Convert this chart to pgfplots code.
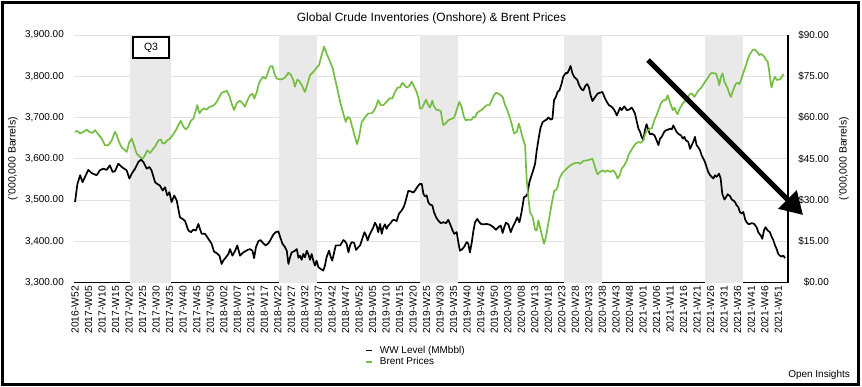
\documentclass[border=0pt]{standalone}
\usepackage{pgfplots}
\usepackage{pgfplotstable}
\pgfplotsset{compat=1.18}
\usepackage{fontspec}
\setmainfont{Liberation Sans}
\usetikzlibrary{arrows.meta}
\definecolor{brent}{RGB}{118,190,67}
\definecolor{band}{RGB}{233,233,233}
\definecolor{gridc}{RGB}{226,226,226}

\pgfplotstableread{
x y
0 3495
0.9 3539
1.9 3560
2.8 3543
3.7 3556
4.9 3573
6.2 3565
8.0 3560
9.2 3572
10.5 3576
11.7 3573
12.9 3584
13.9 3568
14.8 3570
16.0 3588
17.3 3580
18.2 3576
19.1 3572
20.1 3552
21.0 3564
22.2 3576
23.4 3592
24.4 3598
25.3 3592
26.5 3576
27.5 3580
28.3 3572
29.6 3543
30.4 3539
31.4 3535
32.4 3523
33.3 3531
34.1 3511
34.9 3519
35.7 3495
36.7 3511
37.6 3499
38.8 3458
39.8 3454
40.7 3449
41.9 3426
42.9 3422
43.7 3428
44.7 3426
45.6 3442
46.8 3418
48.1 3418
49.3 3406
50.5 3394
51.4 3375
52.4 3371
53.4 3365
54.2 3345
54.8 3353
55.8 3361
56.7 3369
57.3 3381
58.2 3365
59.2 3377
60.0 3390
61.0 3365
62.2 3373
63.8 3379
64.7 3381
65.6 3377
66.2 3359
66.9 3386
67.8 3400
68.6 3403
69.6 3395
70.5 3390
71.5 3395
72.5 3406
73.3 3416
74.2 3422
75.2 3424
75.8 3411
76.7 3394
77.6 3386
78.3 3377
78.9 3345
79.5 3361
80.1 3373
81.3 3377
82.0 3381
82.6 3360
83.2 3365
83.8 3355
84.4 3369
85.0 3361
85.7 3377
86.3 3368
86.9 3355
87.5 3369
88.1 3353
88.7 3341
89.3 3353
90.0 3337
90.8 3333
91.8 3329
92.4 3341
93.0 3361
93.9 3377
94.6 3361
95.1 3353
95.8 3373
96.4 3390
97.1 3390
98.0 3390
98.6 3396
99.2 3403
99.8 3400
100.4 3394
101.1 3373
101.7 3390
102.3 3398
103.2 3396
103.9 3379
104.8 3386
105.4 3390
106.2 3406
107.0 3422
107.6 3414
108.2 3402
108.8 3414
109.4 3422
110.3 3434
110.9 3445
111.5 3438
112.1 3422
112.8 3442
113.4 3418
114.0 3434
114.6 3441
115.2 3430
115.8 3438
116.7 3444
117.3 3450
117.9 3452
118.9 3449
119.8 3467
120.8 3475
121.6 3484
122.3 3499
123.2 3522
124.1 3521
125.1 3518
125.7 3523
126.7 3533
127.5 3539
128.2 3539
128.8 3515
129.4 3509
130.0 3511
130.6 3495
131.2 3489
132.1 3487
132.7 3471
133.5 3458
134.3 3450
135.2 3444
136.2 3446
137.2 3444
138.0 3452
138.9 3438
139.6 3426
140.2 3418
141.1 3422
141.7 3398
142.3 3377
143.2 3381
143.9 3387
144.8 3398
145.4 3394
146.0 3373
146.6 3394
147.3 3426
147.9 3446
148.7 3454
149.5 3446
150.1 3442
151.0 3441
152.2 3442
153.4 3440
154.7 3434
155.6 3428
156.5 3434
157.4 3438
158.1 3420
158.7 3434
159.3 3445
160.2 3441
161.1 3422
161.8 3434
162.7 3446
163.5 3458
164.3 3446
165.1 3471
166.0 3507
166.7 3509
167.3 3515
168.0 3544
168.6 3556
169.4 3572
170.1 3588
170.7 3620
171.5 3653
172.1 3675
172.9 3689
173.8 3693
174.4 3695
175.0 3700
175.9 3695
176.5 3697
177.1 3742
177.8 3750
178.4 3762
179.1 3766
179.9 3782
180.5 3799
181.4 3808
182.0 3807
182.6 3815
183.2 3825
183.9 3807
184.5 3799
185.1 3795
185.7 3791
186.4 3778
187.3 3768
187.9 3766
188.8 3778
189.4 3781
190.0 3773
190.6 3754
191.3 3740
191.9 3746
193.2 3758
194.1 3760
195.0 3762
195.7 3750
196.6 3738
197.4 3730
198.4 3726
199.4 3718
200.3 3705
200.9 3714
201.5 3724
202.1 3718
203.1 3727
204.0 3718
204.8 3719
205.8 3724
206.4 3718
207.0 3710
207.6 3693
208.3 3673
208.9 3665
209.5 3653
210.1 3645
210.7 3669
211.3 3684
212.0 3669
212.6 3659
213.2 3661
214.2 3657
215.0 3645
215.7 3633
216.3 3649
216.9 3653
217.8 3665
218.5 3669
219.4 3671
220.0 3673
220.6 3671
221.2 3681
221.8 3673
222.4 3665
223.3 3659
224.0 3657
224.7 3649
225.3 3653
225.8 3645
226.7 3641
227.4 3624
228.0 3633
228.6 3641
229.2 3653
229.8 3633
230.4 3628
231.1 3620
231.7 3608
232.3 3600
232.9 3592
233.5 3580
234.1 3568
234.8 3560
235.4 3556
236.0 3552
236.6 3560
237.2 3556
238.1 3564
238.7 3552
239.3 3515
240.1 3501
240.7 3507
241.3 3514
242.2 3509
242.8 3501
243.4 3499
244.0 3495
244.6 3487
245.2 3483
245.8 3471
246.5 3467
247.1 3471
247.7 3454
248.3 3446
248.9 3442
249.5 3442
250.2 3444
251.1 3442
252.0 3434
252.6 3422
253.5 3414
254.1 3406
254.7 3426
255.3 3434
256.1 3426
256.9 3422
257.6 3410
258.2 3402
258.8 3390
259.4 3381
260.0 3369
260.6 3365
261.3 3363
261.9 3365
262.5 3359
}\wwdata

\pgfplotstableread{
x y
0 54.8
0.9 55.1
1.9 54.2
3.1 54.8
4.3 55.6
5.3 54.8
6.5 54.4
7.4 55.4
8.6 53.9
9.9 52.3
11.1 49.9
12.3 49.9
13.6 51.7
14.8 54.8
15.4 53.6
16.4 50.8
17.3 49.1
18.5 48.1
19.1 47.5
20.1 51.1
21.0 52.3
21.8 49.9
22.8 46.9
24.0 45.7
25.0 45.0
25.9 46.3
26.7 48.1
27.7 47.1
29.0 48.7
29.9 49.9
30.8 51.7
31.7 52.0
32.4 50.5
33.3 50.8
34.1 51.7
35.1 52.3
36.1 53.6
37.3 55.4
38.2 57.2
39.1 58.8
40.1 56.6
41.0 55.7
41.9 56.6
42.8 58.8
43.8 59.6
44.7 62.7
45.2 64.5
46.0 61.5
46.8 62.7
47.7 63.3
48.7 62.9
49.7 63.9
50.5 64.1
51.4 64.5
52.4 65.7
53.4 67.5
54.2 69.0
55.1 69.3
56.1 69.7
57.1 67.8
57.9 65.1
58.8 62.7
59.8 65.3
61.0 66.1
62.0 65.1
62.8 63.9
63.8 66.3
64.7 68.1
65.6 68.7
66.3 66.9
67.2 69.3
68.0 72.4
69.0 74.2
69.6 74.8
70.5 74.2
71.2 76.0
72.1 78.5
73.0 78.7
73.7 76.0
74.5 74.2
75.8 73.8
77.0 74.1
77.9 74.8
78.9 76.3
79.9 75.4
80.7 73.6
81.3 71.2
82.2 73.8
82.9 73.3
83.8 71.8
85.0 69.3
86.0 72.4
86.9 75.4
88.1 76.6
89.1 77.8
90.2 79.1
91.2 82.7
92.1 85.8
93.0 83.3
94.3 80.3
95.3 77.8
96.1 74.2
97.1 69.9
98.0 65.7
99.0 62.1
100.1 58.4
100.8 60.2
101.7 59.6
102.5 56.6
103.5 52.9
104.3 50.3
105.0 52.9
106.0 58.4
107.2 60.0
108.4 61.5
109.7 61.5
110.7 62.7
111.5 64.5
112.1 66.3
113.0 64.5
114.0 64.5
115.2 65.7
116.2 66.9
117.3 66.9
118.3 69.3
119.3 70.9
120.1 70.9
121.0 72.6
121.8 71.8
122.6 70.9
123.5 71.4
124.5 73.0
125.3 71.4
126.3 69.3
127.0 66.9
127.5 63.3
128.2 63.3
129.0 64.9
129.8 66.5
130.6 64.5
131.2 63.6
132.1 66.1
132.7 64.1
133.5 62.9
134.3 62.7
135.2 62.4
135.8 59.0
136.2 57.2
137.2 58.0
138.0 59.0
139.3 59.6
140.2 60.0
141.1 62.7
142.1 65.7
142.9 63.9
143.8 60.2
144.4 59.0
145.4 59.2
146.6 59.2
147.3 60.2
147.9 60.0
148.5 61.5
149.5 62.3
150.3 62.7
151.2 63.6
152.2 64.5
153.2 64.5
154.0 66.1
154.9 68.1
155.6 69.0
156.5 68.7
157.4 68.1
158.1 67.5
159.0 64.5
159.8 62.7
160.6 60.5
161.4 57.8
162.3 54.2
163.3 54.8
164.1 57.8
164.8 55.4
165.4 52.9
166.4 49.9
166.7 43.2
167.0 37.1
167.6 31.1
168.2 25.6
169.2 23.8
170.1 19.2
170.7 18.9
171.3 22.6
171.9 20.1
172.5 17.7
173.4 14.1
174.1 16.5
174.7 20.1
175.4 23.8
176.0 27.4
176.6 30.5
177.2 33.5
177.8 33.5
178.4 34.7
179.1 37.8
179.7 39.0
180.5 40.2
181.4 41.0
182.4 42.0
183.2 42.6
184.2 43.2
185.2 43.5
186.1 43.5
186.9 43.2
187.9 44.2
189.2 44.4
190.4 44.7
191.3 45.0
191.9 43.2
192.6 40.8
193.2 39.3
194.1 40.2
195.0 40.8
195.9 40.2
196.8 40.8
197.8 40.2
199.0 40.8
199.9 39.6
200.6 37.8
201.5 39.3
202.1 41.4
203.1 42.6
204.0 44.4
204.6 46.3
205.6 48.1
206.4 49.3
207.3 50.5
208.3 51.1
209.2 50.8
210.1 51.7
210.7 53.6
211.3 55.1
212.0 55.4
212.6 56.0
213.2 56.0
213.8 57.8
214.4 59.6
215.0 60.8
215.7 62.7
216.6 65.1
217.5 66.3
218.4 66.3
219.1 68.1
219.7 66.3
220.3 64.5
221.0 62.7
221.6 63.6
222.2 62.1
222.8 61.2
223.4 62.9
224.0 63.9
224.7 65.1
225.3 65.9
226.1 66.3
227.0 68.1
227.6 68.7
228.2 68.5
229.0 67.5
229.6 68.5
230.4 69.7
231.3 70.6
231.9 71.4
232.9 73.0
233.8 74.2
234.8 75.8
235.6 76.3
236.4 76.0
237.0 76.0
237.6 74.2
238.2 71.8
238.8 74.8
239.4 76.0
240.1 73.0
240.7 71.8
241.3 70.6
241.9 68.7
242.5 67.5
243.1 69.3
243.8 71.2
244.4 72.4
245.0 72.6
245.6 72.1
246.2 73.6
246.8 75.4
247.4 77.2
248.1 79.1
248.7 81.1
249.3 82.7
249.9 83.6
250.5 84.5
251.1 84.8
251.8 84.3
252.4 83.6
253.0 82.7
253.6 83.1
254.2 82.7
254.8 82.1
255.5 80.9
256.1 80.3
256.6 77.2
257.2 72.6
257.5 70.9
258.2 73.6
258.8 74.8
259.4 73.6
260.0 73.8
260.6 73.8
261.3 74.8
261.9 75.8
}\brentdata

\begin{document}
\begin{tikzpicture}[x=1bp,y=1bp]
\useasboundingbox (0,0) rectangle (862,386);
\draw[line width=3bp] (2.5,2) rectangle (858.3,383.5);
\node[font=\fontsize{12}{14}\selectfont] at (431.5,368) {Global Crude Inventories (Onshore) \& Brent Prices};

\begin{axis}[
  at={(74bp,103.5bp)}, anchor=south west,
  width=714bp, height=247.5bp, scale only axis,
  xmin=-0.37, xmax=263.6, ymin=3300, ymax=3900,
  axis x line*=bottom, axis y line*=left,
  y axis line style={draw=none},
  x axis line style={line width=1.2bp, -},
  xtick={0,5,...,260},
  xticklabels={2016-W52,2017-W05,2017-W10,2017-W15,2017-W20,2017-W25,2017-W30,2017-W35,2017-W40,2017-W45,2017-W50,2018-W02,2018-W07,2018-W12,2018-W17,2018-W22,2018-W27,2018-W32,2018-W37,2018-W42,2018-W47,2018-W52,2019-W05,2019-W10,2019-W15,2019-W20,2019-W25,2019-W30,2019-W35,2019-W40,2019-W45,2019-W50,2020-W03,2020-W08,2020-W13,2020-W18,2020-W23,2020-W28,2020-W33,2020-W38,2020-W43,2020-W48,2021-W01,2021-W06,2021-W11,2021-W16,2021-W21,2021-W26,2021-W31,2021-W36,2021-W41,2021-W46,2021-W51},
  xticklabel style={rotate=90, anchor=east, inner sep=3.5bp, font=\fontsize{10.3}{12}\selectfont},
  ytick={3300,3400,...,3900},
  yticklabels={{3,300.00},{3,400.00},{3,500.00},{3,600.00},{3,700.00},{3,800.00},{3,900.00}},
  yticklabel style={anchor=east, inner sep=0pt, xshift=-10bp, font=\fontsize{10}{12}\selectfont},
  major tick length=0pt,
  ymajorgrids, grid style={gridc, line width=0.8bp},
  ylabel={('000,000 Barrels)},
  every axis y label/.style={at={(axis description cs:-0.0854,0.5)}, rotate=90, anchor=center, font=\fontsize{10.5}{12}\selectfont},
]
\fill[band] (axis cs:20.3,3300) rectangle (axis cs:35.4,3900);
\fill[band] (axis cs:75.5,3300) rectangle (axis cs:89.4,3900);
\fill[band] (axis cs:127.6,3300) rectangle (axis cs:141.5,3900);
\fill[band] (axis cs:180.8,3300) rectangle (axis cs:194.7,3900);
\fill[band] (axis cs:233.0,3300) rectangle (axis cs:247.0,3900);
\addplot[black, line width=1.7bp, line join=round] table {\wwdata};
\end{axis}

\begin{axis}[
  at={(74bp,103.5bp)}, anchor=south west,
  width=714bp, height=247.5bp, scale only axis,
  xmin=-0.37, xmax=263.6, ymin=0, ymax=90,
  axis x line=none,
  axis y line*=right,
  y axis line style={line width=1.2bp, -},
  ytick={0,15,...,90},
  yticklabels={\$0.00,\$15.00,\$30.00,\$45.00,\$60.00,\$75.00,\$90.00},
  yticklabel style={anchor=east, inner sep=0pt, xshift=41bp, font=\fontsize{10}{12}\selectfont},
  major tick length=0pt,
  ylabel={('000,000 Barrels)},
  every axis y label/.style={at={(axis description cs:1.0784,0.5)}, rotate=90, anchor=center, font=\fontsize{10.5}{12}\selectfont},
  legend style={at={(axis description cs:0.4076,-0.2525)}, anchor=north west, draw=none, fill=none, inner sep=0pt, font=\fontsize{10}{11}\selectfont, row sep=0pt, nodes={inner sep=0.5bp, text height=7.5bp, text depth=2.5bp}, /tikz/every odd column/.append style={column sep=6.5bp}},
  legend image code/.code={\draw[#1] (0bp,0bp) -- (6bp,0bp);},
  legend cell align=left,
]
\addlegendimage{black, line width=1.5bp}
\addlegendentry{WW Level (MMbbl)}
\addplot[brent, line width=1.7bp, line join=round] table {\brentdata};
\addlegendentry{Brent Prices}
\end{axis}

\node[draw, fill=white, line width=2bp, minimum width=36.5bp, minimum height=21.5bp, inner sep=0pt, font=\fontsize{10.5}{12}\selectfont] at (151,338.3) {Q3};
\draw[line width=5bp, -{Triangle[length=22bp,width=25bp]}] (648,326) -- (803,171);
\node[anchor=east, font=\fontsize{10}{12}\selectfont, inner sep=0pt] at (850,11) {Open Insights};
\end{tikzpicture}
\end{document}
